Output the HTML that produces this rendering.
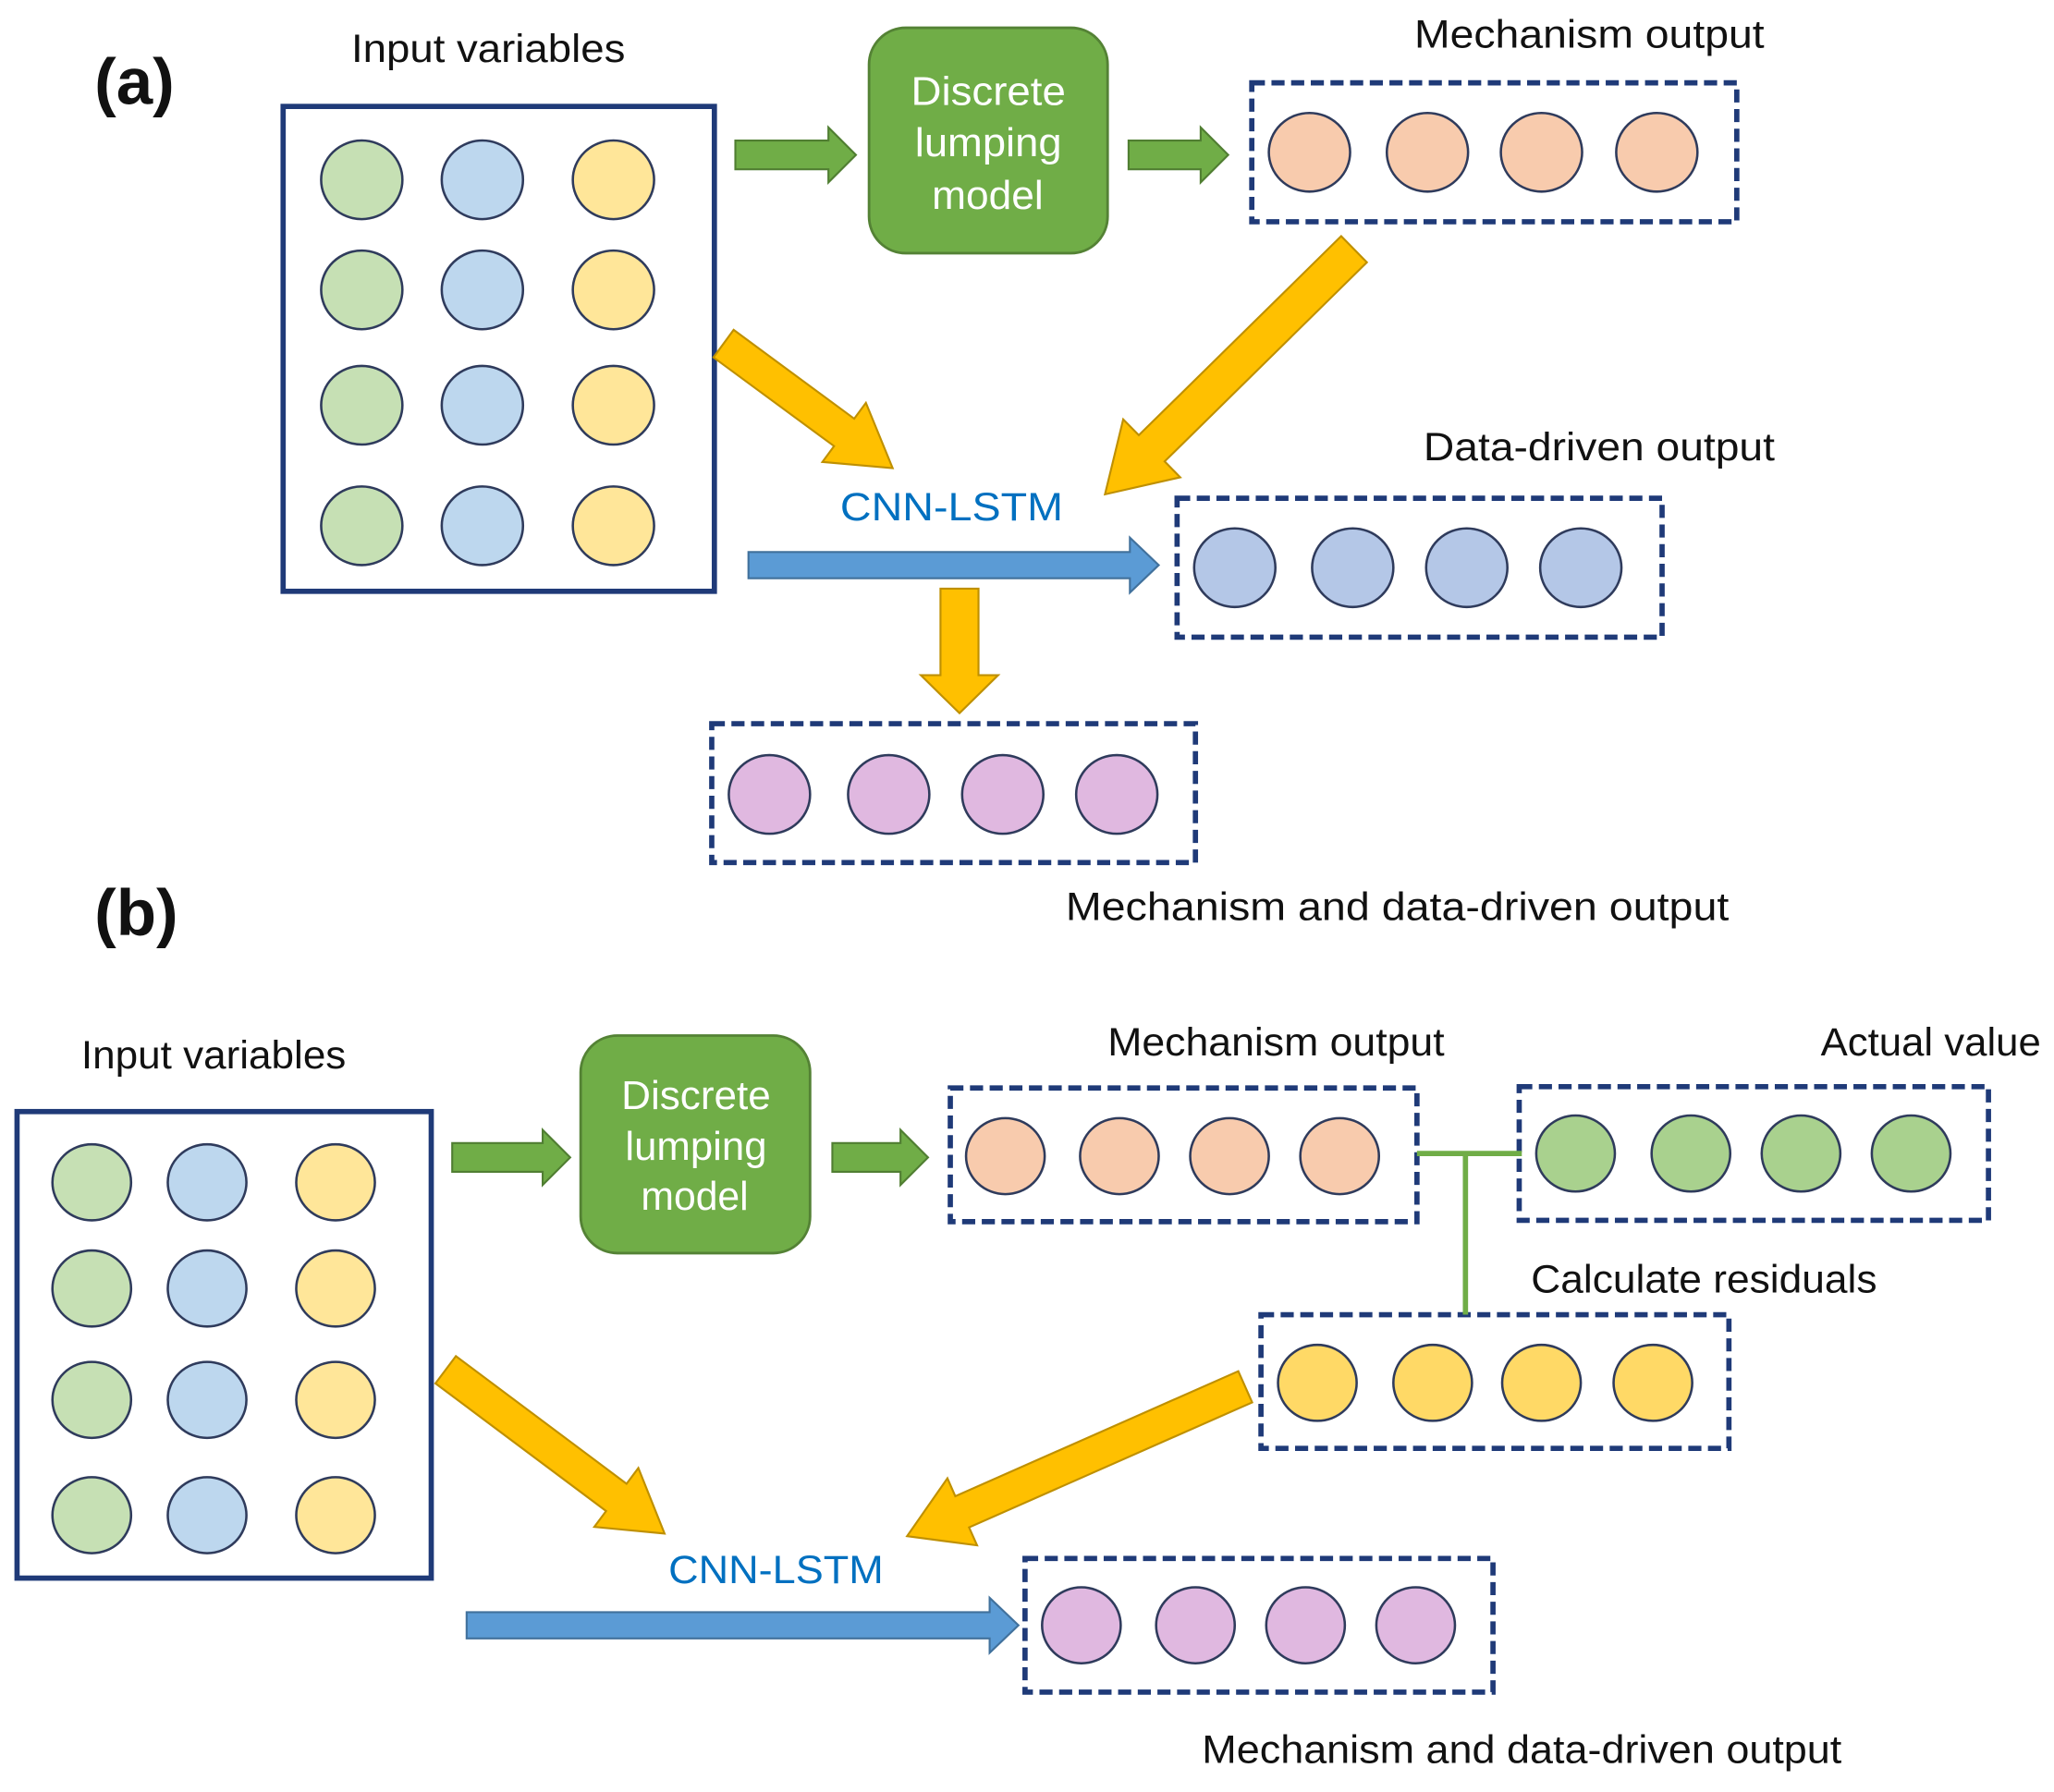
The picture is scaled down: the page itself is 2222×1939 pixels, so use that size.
<!DOCTYPE html>
<html><head><meta charset="utf-8"><style>
html,body{margin:0;padding:0;background:#fff}
svg{display:block}
text{font-family:"Liberation Sans",Arial,sans-serif}
</style></head><body>
<svg id="s" width="2222" height="1939" viewBox="0 0 1567 1367" xmlns="http://www.w3.org/2000/svg">
<rect width="1567" height="1367" fill="#fff"/>
<g font-size="30" fill="#111" lengthAdjust="spacingAndGlyphs">
<text x="72" y="79" font-size="50" font-weight="bold">(a)</text>
<text x="268" y="47" textLength="209" lengthAdjust="spacingAndGlyphs">Input variables</text>
<text x="1079" y="36" textLength="267" lengthAdjust="spacingAndGlyphs">Mechanism output</text>
<text x="1086" y="351" textLength="268" lengthAdjust="spacingAndGlyphs">Data-driven output</text>
<text x="813" y="702" textLength="506" lengthAdjust="spacingAndGlyphs">Mechanism and data-driven output</text>
<text x="641" y="397" textLength="170" lengthAdjust="spacingAndGlyphs" fill="#0070C0">CNN-LSTM</text>
<text x="72" y="713" font-size="50" font-weight="bold">(b)</text>
<text x="62" y="815" textLength="202" lengthAdjust="spacingAndGlyphs">Input variables</text>
<text x="845" y="805" textLength="257" lengthAdjust="spacingAndGlyphs">Mechanism output</text>
<text x="1389" y="805" textLength="168" lengthAdjust="spacingAndGlyphs">Actual value</text>
<text x="1168" y="986" textLength="264" lengthAdjust="spacingAndGlyphs">Calculate residuals</text>
<text x="510" y="1208" textLength="164" lengthAdjust="spacingAndGlyphs" fill="#0070C0">CNN-LSTM</text>
<text x="917" y="1345" textLength="488" lengthAdjust="spacingAndGlyphs">Mechanism and data-driven output</text>
</g>
<g fill="none" stroke="#1F3A78" stroke-width="4">
<rect x="216" y="81" width="329" height="370"/>
<rect x="13" y="848" width="316" height="356"/>
<g stroke-dasharray="10 5">
<rect x="955" y="63" width="370" height="106"/>
<rect x="898" y="380" width="370" height="106"/>
<rect x="543" y="552" width="369" height="106"/>
<rect x="725" y="830" width="356" height="102"/>
<rect x="1159" y="829" width="358" height="102"/>
<rect x="962" y="1003" width="357" height="102"/>
<rect x="782" y="1189" width="357" height="102"/>
</g></g>
<g stroke="#70AD47" stroke-width="4"><line x1="1081" y1="880" x2="1161" y2="880"/><line x1="1118" y1="880" x2="1118" y2="1003"/></g>
<rect x="663" y="21" width="182" height="172" rx="28" fill="#70AD47" stroke="#548235" stroke-width="2"/>
<rect x="443" y="790" width="175" height="166" rx="28" fill="#70AD47" stroke="#548235" stroke-width="2"/>
<g fill="#fff" font-size="31">
<text x="695" y="80" textLength="118" lengthAdjust="spacingAndGlyphs">Discrete</text><text x="698" y="119" textLength="112" lengthAdjust="spacingAndGlyphs">lumping</text><text x="711" y="159" textLength="85" lengthAdjust="spacingAndGlyphs">model</text>
<text x="474" y="846" textLength="114" lengthAdjust="spacingAndGlyphs">Discrete</text><text x="477" y="885" textLength="108" lengthAdjust="spacingAndGlyphs">lumping</text><text x="489" y="923" textLength="82" lengthAdjust="spacingAndGlyphs">model</text>
</g>
<g id="c" stroke="#2F3B5C" stroke-width="1.8"></g>
<g id="a"></g>
</svg>
<script>
var NS="http://www.w3.org/2000/svg";
var c=document.getElementById('c'),a=document.getElementById('a');
function el(g,t,at){var e=document.createElementNS(NS,t);for(var k in at)e.setAttribute(k,at[k]);g.appendChild(e);}
function circ(cx,cy,rx,ry,f){el(c,'ellipse',{cx:cx,cy:cy,rx:rx,ry:ry,fill:f});}
var G='#C6E0B4',B='#BDD7EE',Y='#FFE699';
[137,221,309,401].forEach(function(y){circ(276,y,31,30,G);circ(368,y,31,30,B);circ(468,y,31,30,Y);});
[902,983,1068,1156].forEach(function(y){circ(70,y,30,29,G);circ(158,y,30,29,B);circ(256,y,30,29,Y);});
[999,1089,1176,1264].forEach(function(x){circ(x,116,31,30,'#F8CBAD');});
[942,1032,1119,1206].forEach(function(x){circ(x,433,31,30,'#B4C7E7');});
[587,678,765,852].forEach(function(x){circ(x,606,31,30,'#E0B8E0');});
[767,854,938,1022].forEach(function(x){circ(x,882,30,29,'#F8CBAD');});
[1202,1290,1374,1458].forEach(function(x){circ(x,880,30,29,'#A9D18E');});
[1005,1093,1176,1261].forEach(function(x){circ(x,1055,30,29,'#FFD966');});
[825,912,996,1080].forEach(function(x){circ(x,1240,30,29,'#E0B8E0');});
function arrow(x1,y1,x2,y2,sw,hw,hl,f,s){
 var dx=x2-x1,dy=y2-y1,L=Math.hypot(dx,dy),ux=dx/L,uy=dy/L,px=-uy,py=ux;
 var bx=x2-ux*hl,by=y2-uy*hl;
 var p=[[x1+px*sw/2,y1+py*sw/2],[bx+px*sw/2,by+py*sw/2],[bx+px*hw/2,by+py*hw/2],[x2,y2],
 [bx-px*hw/2,by-py*hw/2],[bx-px*sw/2,by-py*sw/2],[x1-px*sw/2,y1-py*sw/2]];
 el(a,'polygon',{points:p.map(function(q){return q[0].toFixed(1)+','+q[1].toFixed(1)}).join(' '),fill:f,stroke:s,'stroke-width':1.5});
}
var GF='#70AD47',GS='#507E32',YF='#FFC000',YS='#BF9000',BF='#5B9BD5',BS='#41719C';
arrow(561,118,653,118,22,42,21,GF,GS);
arrow(861,118,937,118,22,42,21,GF,GS);
arrow(345,883,435,883,22,42,21,GF,GS);
arrow(635,883,708,883,22,42,21,GF,GS);
arrow(571,431,884,431,20,42,22,BF,BS);
arrow(356,1240,777,1240,20,42,22,BF,BS);
arrow(732,449,732,544,29,59,29,YF,YS);
arrow(1033,190,843,377,28,62,50,YF,YS);
arrow(552,262,681,357,26,56,46,YF,YS);
arrow(950,1058,692,1172,26,56,46,YF,YS);
arrow(340,1045,507,1170,26,56,46,YF,YS);
</script>
</body></html>
